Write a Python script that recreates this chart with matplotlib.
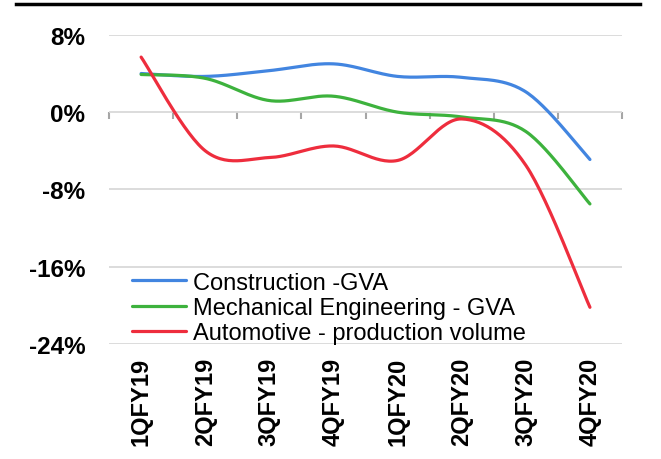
import matplotlib
matplotlib.use('Agg')
import matplotlib.pyplot as plt
from matplotlib.lines import Line2D
import numpy as np

plt.rcParams['font.family'] = ['Liberation Sans', 'DejaVu Sans']

quarters = ["1QFY19", "2QFY19", "3QFY19", "4QFY19", "1QFY20", "2QFY20", "3QFY20", "4QFY20"]
construction = [4.0, 3.7, 4.3, 5.0, 3.7, 3.6, 2.1, -4.9]
mech_eng = [3.9, 3.5, 1.2, 1.65, 0.0, -0.5, -2.0, -9.5]
automotive = [5.7, -4.0, -4.7, -3.5, -5.0, -0.7, -5.5, -20.2]
yticks = [8, 0, -8, -16, -24]


def smooth(y, n=30):
    # Catmull-Rom style smoothing, like Excel's smoothed lines
    y = np.asarray(y, float)
    x = np.arange(len(y), dtype=float)
    px = np.concatenate([[x[0]], x, [x[-1]]])
    py = np.concatenate([[y[0]], y, [y[-1]]])
    xs, ys = [], []
    for i in range(len(y) - 1):
        p0, p1, p2, p3 = i, i + 1, i + 2, i + 3
        t = np.linspace(0, 1, n, endpoint=(i == len(y) - 2))
        b0 = (1 - t) ** 3
        b1 = 3 * (1 - t) ** 2 * t
        b2 = 3 * (1 - t) * t ** 2
        b3 = t ** 3
        for pp, out in ((px, xs), (py, ys)):
            c1 = pp[p1] + (pp[p2] - pp[p0]) / 6
            c2 = pp[p2] - (pp[p3] - pp[p1]) / 6
            out.append(b0 * pp[p1] + b1 * c1 + b2 * c2 + b3 * pp[p2])
    return np.concatenate(xs), np.concatenate(ys)


fig = plt.figure(figsize=(6.61, 4.60), dpi=100)
ax = fig.add_axes([0.165, 0.25, 0.776, 0.672])

series = [
    (construction, "#4285E0", "Construction -GVA"),
    (mech_eng, "#3DB23D", "Mechanical Engineering - GVA"),
    (automotive, "#EE2D3D", "Automotive - production volume"),
]
for vals, col, lab in series:
    sx, sy = smooth(vals)
    ax.plot(sx, sy, color=col, lw=2.3, label=lab, solid_capstyle='round', zorder=3)

ax.set_xlim(-0.5, len(quarters) - 0.5)
ax.set_ylim(-24, 8)
ax.set_yticks(yticks)
ax.set_yticklabels([f"{v}%" for v in yticks], fontsize=17.5, fontweight='bold')
ax.tick_params(axis='y', length=0, pad=17)
ax.grid(axis='y', color='#D9D9D9', lw=1.3)
ax.set_axisbelow(True)
for s in ax.spines.values():
    s.set_visible(False)

ax.set_xticks(range(len(quarters)))
ax.set_xticklabels(quarters, rotation=90, fontsize=17, fontweight='bold')
ax.tick_params(axis='x', length=0, pad=9)

# category axis with tick marks drawn at 0%
sec = ax.secondary_xaxis(24 / 32)
sec.set_xticks(np.arange(len(quarters) + 1) - 0.5)
sec.set_xticklabels([])
sec.tick_params(axis='x', direction='out', length=5, width=1.5, color='#A6A6A6')
sec.spines['bottom'].set_color('#A6A6A6')
sec.spines['bottom'].set_linewidth(2)
sec.spines['top'].set_visible(False)
sec.xaxis.set_ticks_position('bottom')

leg = ax.legend(loc='lower left', bbox_to_anchor=(0.035, -0.016), frameon=False,
                fontsize=17, handlelength=2.3, handletextpad=0.3, labelspacing=0.14,
                borderaxespad=0.0, borderpad=0.2)

fig.add_artist(Line2D([0.024, 0.968], [0.99, 0.99], color='black', lw=2.5,
                      transform=fig.transFigure))

plt.savefig("out.png", dpi=100)
plt.close(fig)
